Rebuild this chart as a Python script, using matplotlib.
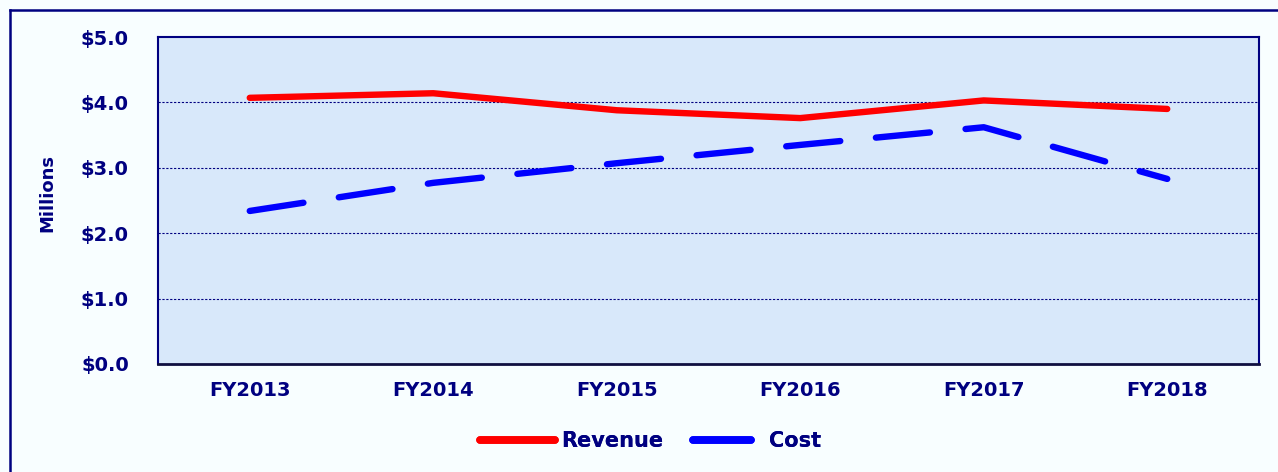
import matplotlib.pyplot as plt
from matplotlib.lines import Line2D

plt.rcParams['font.family'] = ['DejaVu Sans']

years = ["FY2013", "FY2014", "FY2015", "FY2016", "FY2017", "FY2018"]
revenue = [4.07, 4.14, 3.88, 3.76, 4.03, 3.90]
cost = [2.34, 2.77, 3.07, 3.35, 3.62, 2.83]
y_ticks = [0, 1, 2, 3, 4, 5]

NAVY = "#000080"
W, H = 1278, 472

fig = plt.figure(figsize=(W / 100, H / 100), dpi=100, facecolor="#F8FEFF")
ax = fig.add_axes([158 / W, 1 - 364 / H, 1101 / W, 327 / H])
ax.set_facecolor("#D8E8FA")

x = list(range(len(years)))
ax.plot(x, revenue, color="#FF0000", lw=4.6, solid_capstyle="round",
        solid_joinstyle="round", zorder=3)
ax.plot(x, cost, color="#0000FF", lw=4.6, ls=(0, (8.5, 5.6)), dash_capstyle="round",
        dash_joinstyle="round", zorder=3)

ax.set_xlim(-0.5, len(years) - 0.5)
ax.set_ylim(0, 5)
ax.set_xticks(x)
ax.set_xticklabels(years)
ax.set_yticks(y_ticks)
ax.set_yticklabels([f"${v:.1f}" for v in y_ticks])
ax.tick_params(length=0, labelsize=14, labelcolor=NAVY)
ax.tick_params(axis="x", pad=12)
ax.tick_params(axis="y", pad=21)
for lab in ax.get_xticklabels() + ax.get_yticklabels():
    lab.set_fontweight("bold")

for v in y_ticks[1:-1]:
    ax.axhline(v, color=NAVY, lw=0.8, ls=(0, (2, 1.5)), zorder=1)

for s in ["left", "right", "top"]:
    ax.spines[s].set_color(NAVY)
    ax.spines[s].set_linewidth(1.5)
ax.spines["bottom"].set_color("#101040")
ax.spines["bottom"].set_linewidth(2)

fig.text(47 / W, 1 - 193 / H, "Millions", rotation=90, ha="center", va="center",
         fontsize=13, fontweight="bold", color=NAVY)

# legend: two entries placed separately (handles differ in length)
entries = [("Revenue", "#FF0000", 480, 3.6, 0.3), ("Cost", "#0000FF", 693, 2.8, 0.85)]
for label, col, x0, hlen, tpad in entries:
    leg = fig.legend([Line2D([], [], color=col, lw=5.5, solid_capstyle="round")], [label],
                     loc="center left", bbox_to_anchor=(x0 / W, 1 - 441 / H),
                     frameon=False, borderpad=0, borderaxespad=0, handlelength=hlen,
                     handletextpad=tpad, fontsize=15)
    fig.add_artist(leg)
    for t in leg.get_texts():
        t.set_fontweight("bold")
        t.set_color(NAVY)

# outer frame (only left and top show in the picture)
fig.add_artist(Line2D([10 / W, 10 / W], [0, 1 - 10 / H], color=NAVY, lw=1.8))
fig.add_artist(Line2D([10 / W, 1], [1 - 10 / H, 1 - 10 / H], color=NAVY, lw=1.8))

fig.savefig("out.png", dpi=100, facecolor=fig.get_facecolor())
